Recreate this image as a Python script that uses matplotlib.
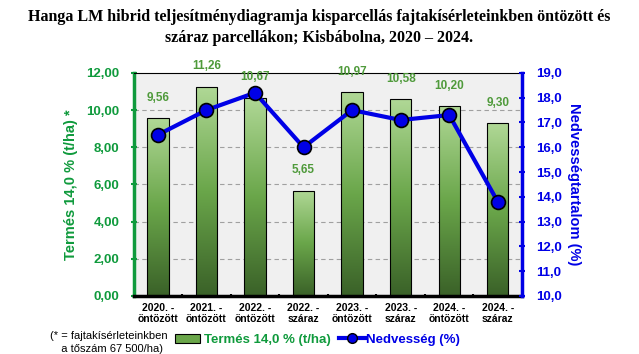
import matplotlib.pyplot as plt
import numpy as np
from matplotlib.lines import Line2D
from matplotlib.patches import Rectangle
from matplotlib.colors import LinearSegmentedColormap

# data
categories = ["2020. -\nöntözött", "2021. -\nöntözött", "2022. -\nöntözött", "2022. -\nszáraz",
              "2023. -\nöntözött", "2023. -\nszáraz", "2024. -\nöntözött", "2024. -\nszáraz"]
yield_t = [9.56, 11.26, 10.67, 5.65, 10.97, 10.58, 10.20, 9.30]
yield_labels = ["9,56", "11,26", "10,67", "5,65", "10,97", "10,58", "10,20", "9,30"]
moisture = [16.5, 17.5, 18.2, 16.0, 17.5, 17.1, 17.3, 13.8]

GREEN = "#0f9a3c"
LBLGREEN = "#4f9a3b"
BLUE = "#0000e6"

plt.rcParams['font.family'] = ['Liberation Sans', 'DejaVu Sans']

fig = plt.figure(figsize=(6.39, 3.54), dpi=100)
ax = fig.add_axes([0.209, 0.164, 0.608, 0.630])
ax.set_facecolor("#f0f0f0")

x = np.arange(len(categories))
bw = 0.44
bars = ax.bar(x, yield_t, width=bw, facecolor="none", edgecolor="black", linewidth=0.8, zorder=3)

# vertical gradient fill inside each bar
grad = np.linspace(0, 1, 256).reshape(-1, 1)
cmap = LinearSegmentedColormap.from_list("g", ["#3a6128", "#6aa64a", "#b0d896"])
for b in bars:
    x0, w, h = b.get_x(), b.get_width(), b.get_height()
    im = ax.imshow(grad, extent=[x0, x0 + w, 0, h], origin="lower", cmap=cmap,
                   aspect="auto", zorder=2)
    im.set_clip_path(Rectangle((x0, 0), w, h, transform=ax.transData))

for xi, v, lab in zip(x, yield_t, yield_labels):
    ax.text(xi, v + 1.1, lab, ha="center", va="center", color=LBLGREEN,
            fontsize=8.5, fontweight="bold", zorder=5)

ax.set_xlim(-0.5, len(categories) - 0.5)
ax.set_ylim(0, 12)
ax.set_yticks(np.arange(0, 12.1, 2))
ax.set_yticklabels([f"{v:.2f}".replace(".", ",") for v in np.arange(0, 12.1, 2)],
                   color=GREEN, fontweight="bold", fontsize=9.5)
for yv in [2, 4, 6, 8, 10]:
    ax.axhline(yv, color="#a0a0a0", linestyle=(0, (4, 3)), linewidth=0.8, zorder=1)
ax.set_xticks(np.arange(-0.5, len(categories), 1), minor=False)
ax.set_xticklabels([])
ax.set_xticks(x, minor=True)
ax.set_xticklabels(categories, minor=True, fontsize=7.5, fontweight="bold", linespacing=1.2)
ax.tick_params(axis="x", which="minor", length=0, pad=5)
ax.tick_params(axis="x", which="major", length=3, width=1.5, direction="inout", color="black")
ax.tick_params(axis="y", length=4, width=1.5, direction="inout", color=GREEN, pad=8)
ax.spines["left"].set_color(GREEN)
ax.spines["left"].set_linewidth(2.5)
ax.spines["bottom"].set_linewidth(2.5)
ax.spines["top"].set_linewidth(0.8)
ax.spines["right"].set_visible(False)
ax.set_ylabel("Termés 14,0 % (t/ha) *", color=GREEN, fontweight="bold", fontsize=10.5, labelpad=6)

ax2 = ax.twinx()
ax2.plot(x, moisture, color=BLUE, linewidth=3, marker="o", markersize=10,
         markerfacecolor=BLUE, markeredgecolor="black", markeredgewidth=1.2, zorder=6)
ax2.set_ylim(10, 19)
ax2.set_yticks(np.arange(10, 19.1, 1))
ax2.set_yticklabels([f"{v:.1f}".replace(".", ",") for v in np.arange(10, 19.1, 1)],
                    color=BLUE, fontweight="bold", fontsize=9.5)
ax2.tick_params(axis="y", length=4, width=1.5, direction="inout", color=BLUE, pad=8)
for s in ["left", "top", "bottom"]:
    ax2.spines[s].set_visible(False)
ax2.spines["right"].set_color(BLUE)
ax2.spines["right"].set_linewidth(2.5)
ax2.set_ylabel("Nedvességtartalom (%)", color=BLUE, fontweight="bold", fontsize=10.5,
               rotation=270, labelpad=14)

fig.text(0.5, 0.975, "Hanga LM hibrid teljesítménydiagramja kisparcellás fajtakísérleteinkben öntözött és\n"
         "száraz parcellákon; Kisbábolna, 2020 – 2024.", ha="center", va="top",
         fontsize=11.5, fontweight="bold", family=["Liberation Serif"], linespacing=1.4)

fig.text(0.17, 0.0, "(* = fajtakísérleteinkben\n  a tőszám 67 500/ha)", ha="center", va="bottom",
         fontsize=8, color="black", linespacing=1.35)

h1 = Rectangle((0, 0), 1, 1, facecolor="#6aa64a", edgecolor="black", linewidth=0.8)
h2 = Line2D([], [], color=BLUE, linewidth=3, marker="o", markersize=7,
            markerfacecolor=BLUE, markeredgecolor="black")
leg1 = fig.legend([h1], ["Termés 14,0 % (t/ha)"], loc="center", bbox_to_anchor=(0.395, 0.04),
                  frameon=False, handlelength=1.9, handleheight=0.7, handletextpad=0.3,
                  prop={"weight": "bold", "size": 9.5})
for t in leg1.get_texts():
    t.set_color(GREEN)
leg2 = fig.legend([h2], ["Nedvesség (%)"], loc="center", bbox_to_anchor=(0.625, 0.04),
                  frameon=False, handlelength=2.0, handletextpad=0.1,
                  prop={"weight": "bold", "size": 9.5})
for t in leg2.get_texts():
    t.set_color(BLUE)

fig.savefig("out.png", dpi=100, facecolor="white")
